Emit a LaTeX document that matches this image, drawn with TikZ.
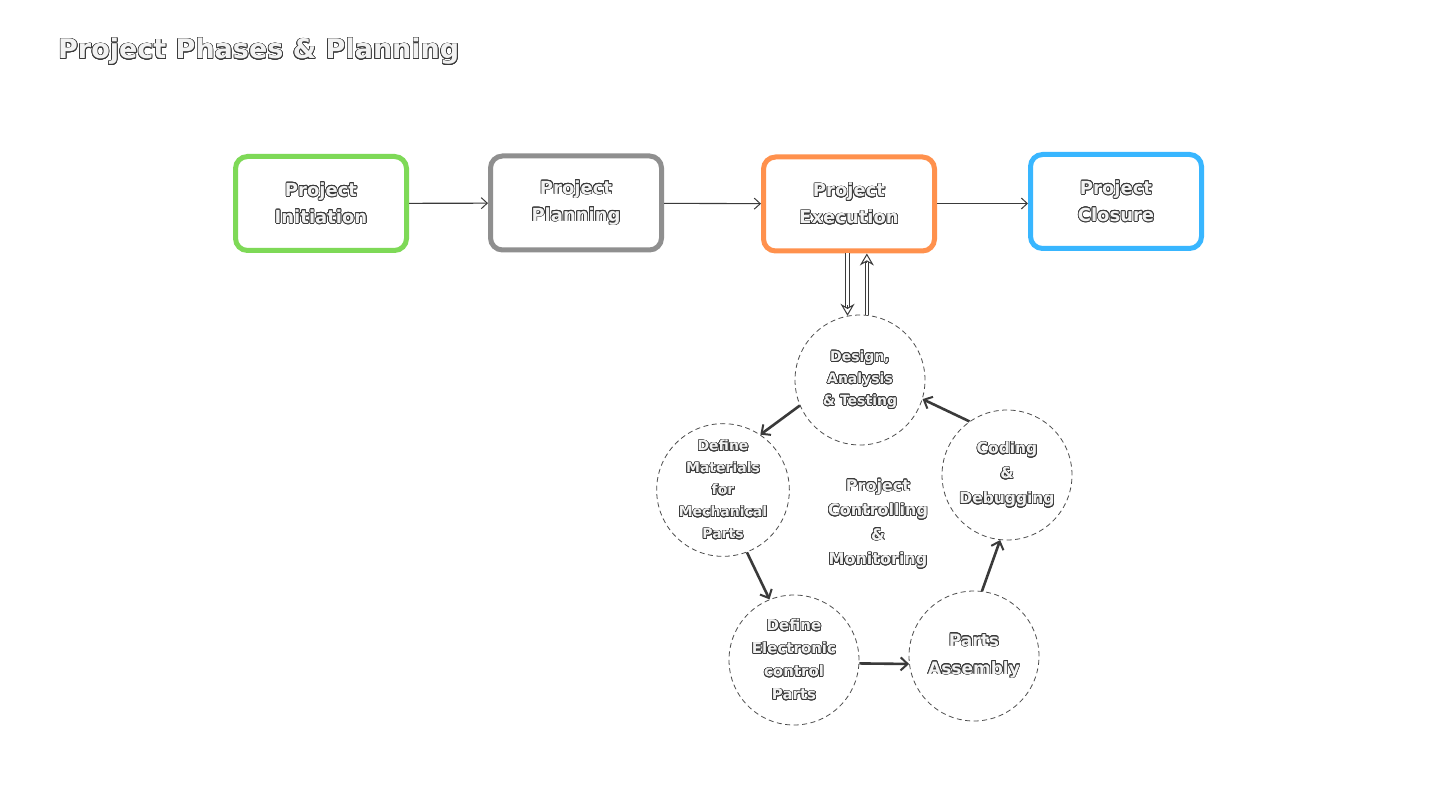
\documentclass[tikz,border=0pt]{standalone}
\usepackage{fontspec}
\setmainfont{DejaVu Sans}
\usepackage{contour}
\usetikzlibrary{arrows.meta}
\contourlength{0.7pt}
\contournumber{20}
\definecolor{outl}{HTML}{3A3A3A}
\definecolor{tfill}{HTML}{F2F2F2}
\definecolor{cgreen}{HTML}{7ED957}
\definecolor{cgray}{HTML}{8F8F8F}
\definecolor{corange}{HTML}{FF914D}
\definecolor{cblue}{HTML}{38B6FF}
\newcommand{\ct}[1]{\contour{outl}{#1}}
\begin{document}
\begin{tikzpicture}[x=1pt,y=-1pt,
  txt/.style={text=tfill, align=center, inner sep=0pt},
  phase/.style={draw, line width=5pt, rounded corners=12pt, minimum width=171pt, minimum height=94pt, fill=white, txt, font=\bfseries\fontsize{18}{27}\selectfont},
  stage/.style={circle, draw=black!70, line width=0.8pt, dash pattern=on 5pt off 3.5pt, minimum size=130pt, inner sep=0pt, txt, text=tfill, font=\bfseries\fontsize{14}{22}\selectfont},
  thinarrow/.style={draw=outl, line width=1.1pt, -{Straight Barb[length=6pt,width=11pt,line width=1pt]}},
  cyclearrow/.style={draw=outl, line width=2.6pt, -{Straight Barb[length=7pt,width=13pt,line width=2pt]}},
  linkshaft/.style={draw=outl, double=white, double distance=2.6pt, line width=1pt, shorten >=8pt},
  linkhead/.style={draw=outl, line width=1pt, -{Stealth[fill=white,length=12pt,width=14pt,inset=4pt,line width=1pt]}}
]
\useasboundingbox[fill=white] (0,0) rectangle (1440,810);

\node[txt, anchor=west, font=\bfseries\fontsize{27}{32}\selectfont] (title) at (58,52) {\ct{Project Phases \& Planning}};

\node[phase, draw=cgreen] (init) at (321,203.5) {\ct{Project}\\\ct{Initiation}};
\node[phase, draw=cgray] (plan) at (576,203) {\ct{Project}\\\ct{Planning}};
\node[phase, draw=corange] (exec) at (849,204) {\ct{Project}\\\ct{Execution}};
\node[phase, draw=cblue] (close) at (1116,201.5) {\ct{Project}\\\ct{Closure}};

\draw[thinarrow] (init) -- (plan);
\draw[thinarrow] (plan) -- (exec);
\draw[thinarrow] (exec.east |- init) -- (close.west |- init);

\node[stage] (design) at (860,380) {\ct{Design,}\\\ct{Analysis}\\\ct{\& Testing}};
\node[stage] (mat) at (723,490) {\ct{Define}\\\ct{Materials}\\\ct{for}\\\ct{Mechanical}\\\ct{Parts}};
\node[stage, font=\bfseries\fontsize{15}{23}\selectfont] (elec) at (794,660) {\ct{Define}\\\ct{Electronic}\\\ct{control}\\\ct{Parts}};
\node[stage, font=\bfseries\fontsize{17}{28}\selectfont] (parts) at (974,656) {\ct{Parts}\\\ct{Assembly}};
\node[stage, font=\bfseries\fontsize{15.5}{25}\selectfont] (code) at (1007,475) {\ct{Coding}\\\ct{\&}\\\ct{Debugging}};

\node[txt, font=\bfseries\fontsize{16}{24.5}\selectfont] (ctrl) at (878,524) {\ct{Project}\\\ct{Controlling}\\\ct{\&}\\\ct{Monitoring}};

% link between execution and the cycle (down and up)
\draw[linkshaft] (exec.south -| design.101) -- (design.101);
\draw[linkhead, shorten <=52pt] (exec.south -| design.101) -- (design.101);
\draw[linkshaft] (design.84) -- (exec.south -| design.84);
\draw[linkhead, shorten <=52pt] (design.84) -- (exec.south -| design.84);

\draw[cyclearrow] (design.203) -- (mat.56);
\draw[cyclearrow] (mat.291) -- (elec.112);
\draw[cyclearrow] (elec.357) -- (parts.187);
\draw[cyclearrow] (parts.83) -- (code.264);
\draw[cyclearrow] (code.125) -- (design.343);
\end{tikzpicture}
\end{document}
